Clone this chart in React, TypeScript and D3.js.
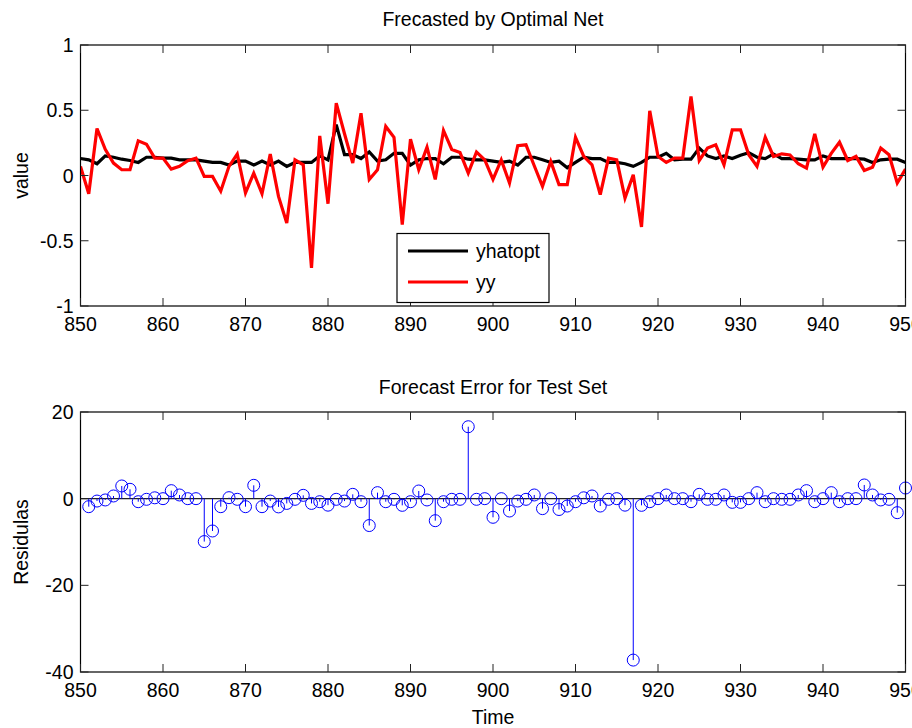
import React from "react";
import * as d3 from "d3";

// ---------- data ----------
const timeStart = 850;
const timeEnd = 950;
const xTicks = [850, 860, 870, 880, 890, 900, 910, 920, 930, 940, 950];
const yTicksTop = [-1, -0.5, 0, 0.5, 1];
const yTicksBottom = [-40, -20, 0, 20];

// yhatopt, t = 850..950
const yhatopt = [
  0.13, 0.12, 0.09, 0.15, 0.14, 0.125, 0.115, 0.1, 0.14, 0.14,
  0.133, 0.133, 0.12, 0.12, 0.12, 0.11, 0.1, 0.1, 0.08, 0.11,
  0.11, 0.08, 0.11, 0.08, 0.11, 0.07, 0.1, 0.1, 0.1, 0.15,
  0.12, 0.39, 0.16, 0.16, 0.13, 0.18, 0.11, 0.12, 0.17, 0.17,
  0.08, 0.12, 0.13, 0.13, 0.09, 0.14, 0.14, 0.125, 0.12, 0.12,
  0.11, 0.1, 0.11, 0.08, 0.14, 0.14, 0.12, 0.1, 0.11, 0.06,
  0.1, 0.14, 0.13, 0.13, 0.1, 0.1, 0.09, 0.07, 0.1, 0.14,
  0.14, 0.17, 0.12, 0.125, 0.125, 0.21, 0.15, 0.13, 0.15, 0.13,
  0.155, 0.175, 0.14, 0.13, 0.165, 0.13, 0.13, 0.125, 0.12, 0.12,
  0.15, 0.13, 0.13, 0.13, 0.13, 0.125, 0.1, 0.12, 0.125, 0.125,
  0.1,
];

// yy, t = 850..950
const yy = [
  0.07, -0.14, 0.36, 0.2, 0.095, 0.044, 0.044, 0.266, 0.24, 0.133,
  0.133, 0.049, 0.07, 0.113, 0.133, -0.007, -0.007, -0.12, 0.07, 0.164,
  -0.134, 0.018, -0.14, 0.164, -0.16, -0.364, 0.12, 0.082, -0.708, 0.304,
  -0.216, 0.554, 0.32, 0.095, 0.477, -0.03, 0.044, 0.376, 0.293, -0.377,
  0.278, 0.044, 0.217, -0.03, 0.345, 0.2, 0.177, 0.018, 0.18, 0.12,
  -0.03, 0.12, -0.058, 0.228, 0.235, 0.075, -0.083, 0.108, -0.07, -0.07,
  0.293, 0.146, 0.082, -0.147, 0.133, 0.12, -0.173, 0.006, -0.394, 0.495,
  0.146, 0.1, 0.133, 0.133, 0.605, 0.115, 0.21, 0.235, 0.082, 0.35,
  0.35, 0.159, 0.07, 0.293, 0.146, 0.166, 0.157, 0.09, 0.057, 0.319,
  0.064, 0.17, 0.255, 0.115, 0.146, 0.039, 0.064, 0.21, 0.159, -0.058,
  0.049,
];

// residuals, t = 851..950
const residStart = 851;
const residuals = [
  -1.85, -0.55, -0.3, 0.62, 2.93, 2.16, -0.7, -0.15, 0.2, 0,
  1.85, 0.85, 0, 0, -9.9, -7.46, -1.85, 0.23, -0.15, -1.85,
  3.08, -1.85, -0.55, -1.9, -1.1, -0.15, 0.77, -1.1, -0.7, -1.5,
  -0.15, -0.55, 1.0, -0.7, -6.2, 1.39, -0.7, -0.15, -1.54, -0.7,
  1.77, -0.3, -5.08, -0.7, -0.15, -0.15, 16.6, -0.15, 0, -4.3,
  0, -2.85, -0.55, -0.15, 0.85, -2.3, 0, -2.5, -1.7, -0.7,
  0.2, 0.62, -1.7, -0.15, 0, -1.5, -37.25, -1.54, -0.7, 0,
  0.85, 0, 0, -0.7, 1.0, -0.15, -0.15, 0.85, -0.85, -0.85,
  0, 1.39, -0.7, 0, -0.15, -0.15, 0.85, 1.85, -0.7, 0,
  1.39, -0.7, 0, 0, 3.16, 0.85, -0.3, -0.15, -3.23, 2.46,
];

const seriesNames = ["yhatopt", "yy"];
const seriesColors = ["#000000", "#ff0000"];

// ---------- layout ----------
const W = 912;
const H = 728;
const L = 80.5;
const R = 905.5;
const top1 = 45;
const bot1 = 306;
const top2 = 412;
const bot2 = 672;
const FONT = "'Liberation Sans', Arial, Helvetica, sans-serif";
const TICK = 8;

function Frame({
  x,
  y,
  yTicks,
  yFmt,
}: {
  x: d3.ScaleLinear<number, number>;
  y: d3.ScaleLinear<number, number>;
  yTicks: number[];
  yFmt: (v: number) => string;
}) {
  const [y0, y1] = y.range();
  const yb = Math.max(y0, y1);
  const yt = Math.min(y0, y1);
  return (
    <g>
      <rect x={L} y={yt} width={R - L} height={yb - yt} fill="none" stroke="#000" strokeWidth={1.2} />
      {xTicks.map((t) => (
        <g key={"x" + t}>
          <line x1={x(t)} x2={x(t)} y1={yb} y2={yb - TICK} stroke="#222" strokeWidth={1} />
          <line x1={x(t)} x2={x(t)} y1={yt} y2={yt + TICK} stroke="#222" strokeWidth={1} />
          <text x={x(t)} y={yb + 25} textAnchor="middle" fontSize={19.5} fontFamily={FONT} fill="#000">
            {t}
          </text>
        </g>
      ))}
      {yTicks.map((v) => (
        <g key={"y" + v}>
          <line x1={L} x2={L + TICK} y1={y(v)} y2={y(v)} stroke="#222" strokeWidth={1} />
          <line x1={R} x2={R - TICK} y1={y(v)} y2={y(v)} stroke="#222" strokeWidth={1} />
          <text x={L - 7} y={y(v) + 7} textAnchor="end" fontSize={19.5} fontFamily={FONT} fill="#000">
            {yFmt(v)}
          </text>
        </g>
      ))}
    </g>
  );
}

export default function App() {
  const x = d3.scaleLinear().domain([timeStart, timeEnd]).range([L, R]);
  const yTop = d3.scaleLinear().domain([-1, 1]).range([bot1, top1]);
  const yBot = d3.scaleLinear().domain([-40, 20]).range([bot2, top2]);

  const times = d3.range(timeStart, timeEnd + 1);
  const line = d3
    .line<number>()
    .x((_, i) => x(times[i]))
    .y((d) => yTop(d));

  const series = [yhatopt, yy];

  const residTimes = residuals.map((_, i) => residStart + i);

  const fmtTop = (v: number) => (v === 0 ? "0" : String(v));

  return (
    <svg
      width={W}
      height={H}
      style={{ position: "absolute", left: 0, top: 0, background: "#fff" }}
      xmlns="http://www.w3.org/2000/svg"
    >
      <rect x={0} y={0} width={W} height={H} fill="#fff" />

      {/* ---- top plot ---- */}
      <text x={(L + R) / 2} y={26} textAnchor="middle" fontSize={19.5} fontFamily={FONT} fill="#000">
        Frecasted by Optimal Net
      </text>
      <text
        transform={`translate(28,${(top1 + bot1) / 2}) rotate(-90)`}
        textAnchor="middle"
        fontSize={19.5}
        fontFamily={FONT}
        fill="#000"
      >
        value
      </text>
      <defs>
        <clipPath id="clipTop">
          <rect x={L} y={top1} width={R - L} height={bot1 - top1} />
        </clipPath>
      </defs>
      <g clipPath="url(#clipTop)">
        {series.map((s, k) => (
          <path
            key={seriesNames[k]}
            d={line(s) || ""}
            fill="none"
            stroke={seriesColors[k]}
            strokeWidth={3.2}
            strokeLinejoin="miter"
          />
        ))}
      </g>
      <Frame x={x} y={yTop} yTicks={yTicksTop} yFmt={fmtTop} />

      {/* legend */}
      <g>
        <rect x={397} y={233.5} width={152} height={69} fill="#fff" stroke="#000" strokeWidth={1.2} />
        {seriesNames.map((n, k) => (
          <g key={"lg" + n}>
            <line
              x1={408}
              x2={468}
              y1={251 + k * 31}
              y2={251 + k * 31}
              stroke={seriesColors[k]}
              strokeWidth={3.2}
            />
            <text x={476} y={258 + k * 31} fontSize={19.5} fontFamily={FONT} fill="#000">
              {n}
            </text>
          </g>
        ))}
      </g>

      {/* ---- bottom plot ---- */}
      <text x={(L + R) / 2} y={394} textAnchor="middle" fontSize={19.5} fontFamily={FONT} fill="#000">
        Forecast Error for Test Set
      </text>
      <text
        transform={`translate(28,${(top2 + bot2) / 2}) rotate(-90)`}
        textAnchor="middle"
        fontSize={19.5}
        fontFamily={FONT}
        fill="#000"
      >
        Residulas
      </text>
      <text x={(L + R) / 2} y={724} textAnchor="middle" fontSize={19.5} fontFamily={FONT} fill="#000">
        Time
      </text>
      <line x1={x(timeStart)} x2={x(timeEnd)} y1={yBot(0)} y2={yBot(0)} stroke="#222" strokeWidth={1.3} />
      <g>
        {residuals.map((v, i) => (
          <g key={"r" + i}>
            <line
              x1={x(residTimes[i])}
              x2={x(residTimes[i])}
              y1={yBot(0)}
              y2={yBot(v)}
              stroke="#0000ff"
              strokeWidth={1}
            />
            <circle cx={x(residTimes[i])} cy={yBot(v)} r={6} fill="none" stroke="#0000ff" strokeWidth={1} />
          </g>
        ))}
      </g>
      <Frame x={x} y={yBot} yTicks={yTicksBottom} yFmt={(v) => String(v)} />
    </svg>
  );
}
